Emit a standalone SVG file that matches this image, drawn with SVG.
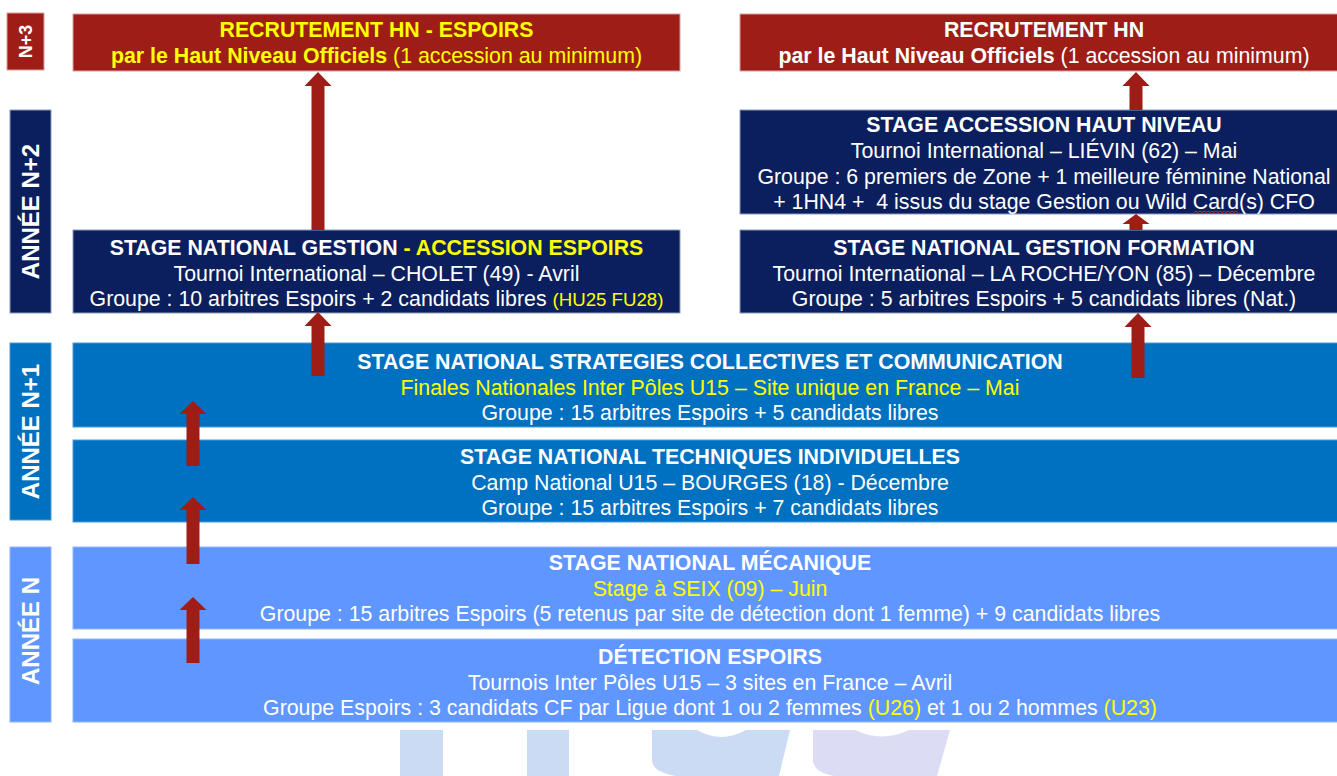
<svg xmlns="http://www.w3.org/2000/svg" width="1337" height="776" viewBox="0 0 1337 776">
<style>
.t{font-family:"Liberation Sans",Arial,sans-serif;font-size:21.33px;fill:#fff;text-anchor:middle;white-space:pre}
.b{font-weight:bold}
.y{fill:#FFFF00}
.s{font-size:18.67px}
.lab{font-family:"Liberation Sans",Arial,sans-serif;font-weight:bold;font-size:24px;fill:#fff;text-anchor:middle}
.red{fill:#9E1E17;stroke:#D9A09A;stroke-width:1}
.navy{fill:#0B1F5E;stroke:#8C9CC0;stroke-width:1}
.blue{fill:#0070C0;stroke:#4A9AD8;stroke-width:1}
.lblue{fill:#6096FF;stroke:#8FB4FF;stroke-width:1}
.arrow{fill:#9E1E17}
.wm{fill:#CCDBF4}
</style>
<rect width="1337" height="776" fill="#fff"/>
<g id="watermark">
<rect class="wm" x="400" y="730" width="43" height="46"/>
<rect class="wm" x="527" y="730" width="42" height="46"/>
<path class="wm" d="M652,730 L697,730 Q721,744 746,730 L790,730 L779,776 L676,776 Q652,772 652,760 Z"/>
<path fill="#DCDCF4" d="M813,730 L855,730 Q882,743 909,730 L950,730 L937,776 L834,776 Q813,772 813,760 Z"/>
</g>
<g id="label-n3"><rect class="red" x="7" y="13" width="37" height="57"/><text class="lab" style="font-size:18px" transform="translate(25.5,41.5) rotate(-90)" y="6.5">N+3</text></g>
<g id="label-n2"><rect class="navy" x="10" y="110" width="41" height="203"/><text class="lab" transform="translate(30.5,211.5) rotate(-90)" y="8.6">ANNÉE N+2</text></g>
<g id="label-n1"><rect class="blue" x="10" y="343" width="41" height="177"/><text class="lab" transform="translate(30.5,431.5) rotate(-90)" y="8.6">ANNÉE N+1</text></g>
<g id="label-n"><rect class="lblue" x="10" y="547" width="41" height="175"/><text class="lab" transform="translate(30.5,631) rotate(-90)" y="8.6">ANNÉE N</text></g>

<g id="recrutement-hn-espoirs">
<rect class="red" x="73" y="14" width="607" height="57"/>
<text class="t b y" x="376.5" y="37">RECRUTEMENT HN - ESPOIRS</text>
<text class="t y" x="376.5" y="63"><tspan class="b">par le Haut Niveau Officiels</tspan> (1 accession au minimum)</text>
</g>
<g id="recrutement-hn">
<rect class="red" x="740" y="14" width="608" height="57"/>
<text class="t b" x="1044" y="37">RECRUTEMENT HN</text>
<text class="t" x="1044" y="63"><tspan class="b">par le Haut Niveau Officiels</tspan> (1 accession au minimum)</text>
</g>
<g id="stage-gestion-accession">
<rect class="navy" x="73" y="230" width="607" height="83"/>
<text class="t b" x="376.5" y="255">STAGE NATIONAL GESTION<tspan class="y"> - ACCESSION ESPOIRS</tspan></text>
<text class="t" x="376.5" y="281">Tournoi International – CHOLET (49) - Avril</text>
<text class="t" x="376.5" y="306">Groupe : 10 arbitres Espoirs + 2 candidats libres <tspan class="y s">(HU25 FU28)</tspan></text>
</g>
<g id="stage-accession-hn">
<rect class="navy" x="740" y="110" width="608" height="104"/>
<text class="t b" x="1044" y="132">STAGE ACCESSION HAUT NIVEAU</text>
<text class="t" x="1044" y="158">Tournoi International – LIÉVIN (62) – Mai</text>
<text class="t" x="1044" y="183.5">Groupe : 6 premiers de Zone + 1 meilleure féminine National</text>
<text class="t" x="1044" y="209">+ 1HN4 +  4 issus du stage Gestion ou Wild Card(s) CFO</text>
<path d="M1194,212.5 l2,-1.5 l2,1.5 l2,-1.5 l2,1.5 l2,-1.5 l2,1.5 l2,-1.5 l2,1.5 l2,-1.5 l2,1.5 l2,-1.5 l2,1.5 l2,-1.5 l2,1.5 l2,-1.5 l2,1.5 l2,-1.5 l2,1.5 l2,-1.5 l2,1.5 l2,-1.5 l2,1.5" fill="none" stroke="#E0202A" stroke-width="1"/>
</g>
<g id="stage-gestion-formation">
<rect class="navy" x="740" y="230" width="608" height="83"/>
<text class="t b" x="1044" y="255">STAGE NATIONAL GESTION FORMATION</text>
<text class="t" x="1044" y="281">Tournoi International – LA ROCHE/YON (85) – Décembre</text>
<text class="t" x="1044" y="306">Groupe : 5 arbitres Espoirs + 5 candidats libres (Nat.)</text>
</g>
<g id="stage-strategies">
<rect class="blue" x="73" y="343" width="1275" height="84"/>
<text class="t b" x="710" y="369">STAGE NATIONAL STRATEGIES COLLECTIVES ET COMMUNICATION</text>
<text class="t y" x="710" y="394.5">Finales Nationales Inter Pôles U15 – Site unique en France – Mai</text>
<text class="t" x="710" y="420">Groupe : 15 arbitres Espoirs + 5 candidats libres</text>
</g>
<g id="stage-techniques">
<rect class="blue" x="73" y="440" width="1275" height="82"/>
<text class="t b" x="710" y="464">STAGE NATIONAL TECHNIQUES INDIVIDUELLES</text>
<text class="t" x="710" y="490">Camp National U15 – BOURGES (18) - Décembre</text>
<text class="t" x="710" y="515">Groupe : 15 arbitres Espoirs + 7 candidats libres</text>
</g>
<g id="stage-mecanique">
<rect class="lblue" x="73" y="547" width="1275" height="82"/>
<text class="t b" x="710" y="570">STAGE NATIONAL MÉCANIQUE</text>
<text class="t y" x="710" y="596">Stage à SEIX (09) – Juin</text>
<text class="t" x="710" y="621">Groupe : 15 arbitres Espoirs (5 retenus par site de détection dont 1 femme) + 9 candidats libres</text>
</g>
<g id="detection-espoirs">
<rect class="lblue" x="73" y="639" width="1275" height="83"/>
<text class="t b" x="710" y="664">DÉTECTION ESPOIRS</text>
<text class="t" x="710" y="690">Tournois Inter Pôles U15 – 3 sites en France – Avril</text>
<text class="t" x="710" y="715">Groupe Espoirs : 3 candidats CF par Ligue dont 1 ou 2 femmes <tspan class="y">(U26)</tspan> et 1 ou 2 hommes <tspan class="y">(U23)</tspan></text>
</g>

<g id="connectors">
<polygon class="arrow" points="318,72 331.5,86 324.5,86 324.5,230 311.5,230 311.5,86 304.5,86"/>
<polygon class="arrow" points="318,312 331.5,326 324.5,326 324.5,376 311.5,376 311.5,326 304.5,326"/>
<polygon class="arrow" points="1136,72 1149.5,86 1142.5,86 1142.5,110 1129.5,110 1129.5,86 1122.5,86"/>
<polygon class="arrow" points="1136,214 1149.5,224 1142.5,224 1142.5,230 1129.5,230 1129.5,224 1122.5,224"/>
<polygon class="arrow" points="1138,313 1151.5,327 1144.5,327 1144.5,378 1131.5,378 1131.5,327 1124.5,327"/>
<polygon class="arrow" points="193,401 206.5,414 199.5,414 199.5,466 186.5,466 186.5,414 179.5,414"/>
<polygon class="arrow" points="193,497 206.5,510 199.5,510 199.5,564 186.5,564 186.5,510 179.5,510"/>
<polygon class="arrow" points="193,597 206.5,610 199.5,610 199.5,663 186.5,663 186.5,610 179.5,610"/>
</g>
</svg>
